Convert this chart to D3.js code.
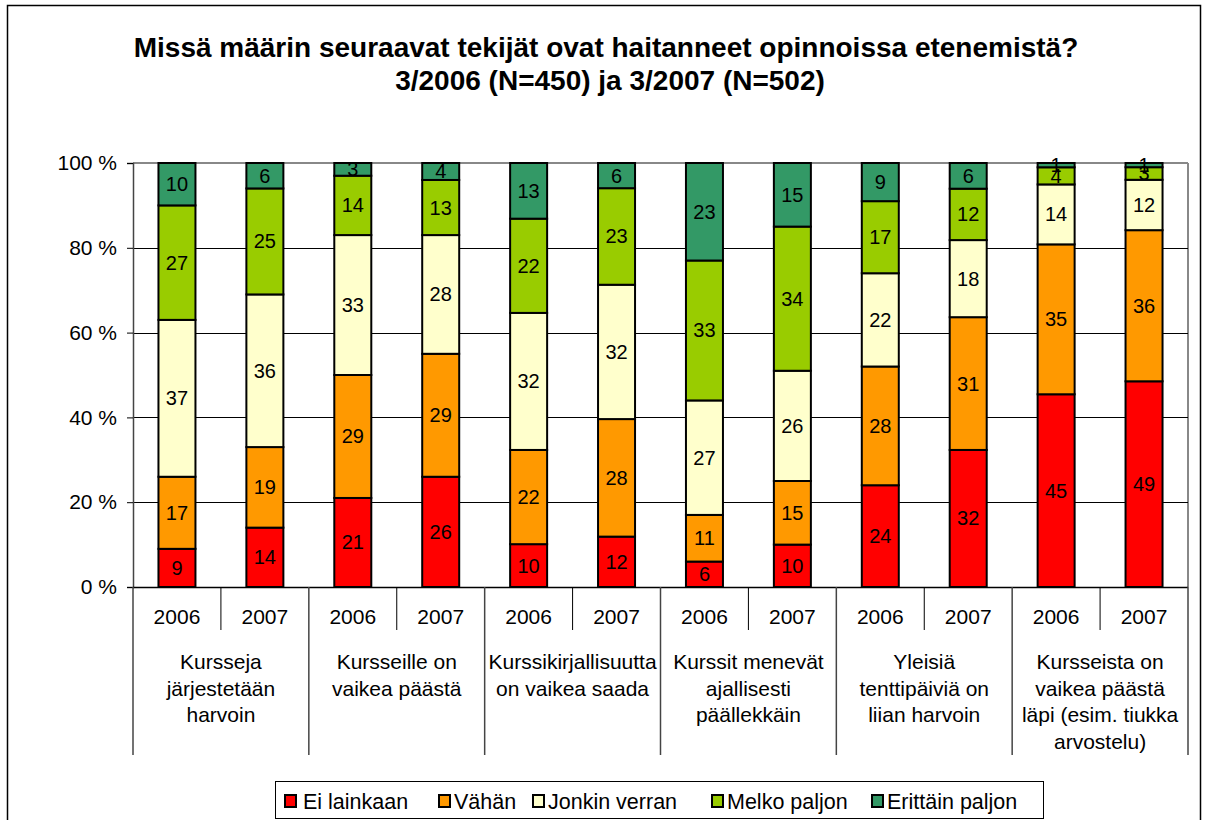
<!DOCTYPE html>
<html><head><meta charset="utf-8">
<script src="https://cdn.jsdelivr.net/npm/d3@7/dist/d3.min.js"></script>
<style>body{margin:0;background:#fff}svg{display:block;font-family:"Liberation Sans",Arial,sans-serif}</style>
</head><body>
<script>
const categories = [
  ["Kursseja", "järjestetään", "harvoin"],
  ["Kursseille on", "vaikea päästä"],
  ["Kurssikirjallisuutta", "on vaikea saada"],
  ["Kurssit menevät", "ajallisesti", "päällekkäin"],
  ["Yleisiä", "tenttipäiviä on", "liian harvoin"],
  ["Kursseista on", "vaikea päästä", "läpi (esim. tiukka", "arvostelu)"]
];
const years = ["2006", "2007"];
const seriesNames = ["Ei lainkaan", "Vähän", "Jonkin verran", "Melko paljon", "Erittäin paljon"];
const seriesColors = ["#FF0000", "#FF9900", "#FFFFCC", "#99CC00", "#339966"];
// values per bar (category x year), in order of seriesNames
const eiLainkaan    = [9, 14, 21, 26, 10, 12, 6, 10, 24, 32, 45, 49];
const vahan         = [17, 19, 29, 29, 22, 28, 11, 15, 28, 31, 35, 36];
const jonkinVerran  = [37, 36, 33, 28, 32, 32, 27, 26, 22, 18, 14, 12];
const melkoPaljon   = [27, 25, 14, 13, 22, 23, 33, 34, 17, 12, 4, 3];
const erittainPaljon= [10, 6, 3, 4, 13, 6, 23, 15, 9, 6, 1, 1];
const yTicks = [0, 20, 40, 60, 80, 100];

const W = 1208, H = 820;
const svg = d3.select("body").append("svg").attr("width", W).attr("height", H);

// outer frame
svg.append("rect").attr("x", 7.5).attr("y", 5.5).attr("width", 1193).attr("height", 830)
  .attr("fill", "none").attr("stroke", "#000").attr("stroke-width", 1.5);

// title
svg.append("text").attr("x", 606).attr("y", 57).attr("text-anchor", "middle")
  .attr("font-size", 28).attr("font-weight", "bold").text("Missä määrin seuraavat tekijät ovat haitanneet opinnoissa etenemistä?");
svg.append("text").attr("x", 610).attr("y", 90).attr("text-anchor", "middle")
  .attr("font-size", 28).attr("font-weight", "bold").text("3/2006 (N=450) ja 3/2007 (N=502)");

const pLeft = 133, pRight = 1188, pTop = 163, pBottom = 587;
const y = d3.scaleLinear().domain([0, 100]).range([pBottom, pTop]);
const barKeys = d3.range(categories.length * years.length);
const x = d3.scaleBand().domain(barKeys).range([pLeft, pRight]).padding(0);
const xc = d3.scaleBand().domain(d3.range(categories.length)).range([pLeft, pRight]).padding(0);
const barW = 37;

// plot border (gray top and right)
svg.append("line").attr("x1", pLeft).attr("x2", pRight).attr("y1", pTop).attr("y2", pTop).attr("stroke", "#888").attr("stroke-width", 2);
svg.append("line").attr("x1", pRight).attr("x2", pRight).attr("y1", pTop).attr("y2", pBottom).attr("stroke", "#888").attr("stroke-width", 2);

// gridlines
svg.append("g").selectAll("line").data(yTicks.filter(t => t > 0 && t < 100)).join("line")
  .attr("x1", pLeft).attr("x2", pRight).attr("y1", d => Math.round(y(d)) + 0.5).attr("y2", d => Math.round(y(d)) + 0.5)
  .attr("stroke", "#000").attr("stroke-width", 1);

// y axis
const yAxis = d3.axisLeft(y).tickValues(yTicks).tickSize(6).tickFormat(d => d + " %");
const gy = svg.append("g").attr("transform", `translate(${pLeft},0)`).call(yAxis);
gy.select(".domain").attr("stroke", "#444").attr("stroke-width", 1.5);
gy.selectAll(".tick line").attr("stroke", "#000");
gy.selectAll(".tick text").attr("font-size", 21).attr("fill", "#000").attr("x", -16)
  .attr("font-family", "Liberation Sans, Arial, sans-serif");

// stack data
const seriesArrays = [eiLainkaan, vahan, jonkinVerran, melkoPaljon, erittainPaljon];
const rows = barKeys.map(i => {
  const vals = seriesArrays.map(a => a[i]);
  const sum = d3.sum(vals);
  const o = { key: i };
  seriesNames.forEach((n, j) => { o[n] = vals[j] * 100 / sum; o["raw_" + n] = vals[j]; });
  return o;
});
const stacked = d3.stack().keys(seriesNames)(rows);

const gBars = svg.append("g");
stacked.forEach((layer, si) => {
  const g = gBars.append("g");
  g.selectAll("rect").data(layer).join("rect")
    .attr("x", d => x(d.data.key) + x.bandwidth() / 2 - barW / 2)
    .attr("width", barW)
    .attr("y", d => y(d[1]))
    .attr("height", d => y(d[0]) - y(d[1]))
    .attr("fill", seriesColors[si])
    .attr("stroke", "#000").attr("stroke-width", 2);
});
stacked.forEach((layer, si) => {
  gBars.append("g").selectAll("text").data(layer).join("text")
    .attr("x", d => x(d.data.key) + x.bandwidth() / 2)
    .attr("y", d => (y(d[0]) + y(d[1])) / 2 + 7)
    .attr("text-anchor", "middle").attr("font-size", 20).attr("fill", "#000")
    .text(d => d.data["raw_" + layer.key]);
});

// x axis: year labels & separators
const gx = svg.append("g");
gx.append("line").attr("x1", pLeft).attr("x2", pRight).attr("y1", pBottom + 0.5).attr("y2", pBottom + 0.5).attr("stroke", "#000").attr("stroke-width", 1.5);
gx.selectAll("text.year").data(barKeys).join("text").attr("class", "year")
  .attr("x", d => x(d) + x.bandwidth() / 2).attr("y", 624)
  .attr("text-anchor", "middle").attr("font-size", 21).text(d => years[d % 2]);
// inner separators between years
gx.selectAll("line.inner").data(d3.range(categories.length)).join("line").attr("class", "inner")
  .attr("x1", d => x(d * 2 + 1)).attr("x2", d => x(d * 2 + 1))
  .attr("y1", pBottom).attr("y2", 630).attr("stroke", "#000").attr("stroke-width", 1);
// category separators
gx.selectAll("line.cat").data(d3.range(categories.length + 1)).join("line").attr("class", "cat")
  .attr("x1", d => d < categories.length ? xc(d) : pRight).attr("x2", d => d < categories.length ? xc(d) : pRight)
  .attr("y1", pBottom).attr("y2", 755).attr("stroke", "#444").attr("stroke-width", 1.5);
// category labels
categories.forEach((lines, ci) => {
  const t = gx.append("text").attr("text-anchor", "middle").attr("font-size", 21);
  lines.forEach((ln, li) => {
    t.append("tspan").attr("x", xc(ci) + xc.bandwidth() / 2).attr("y", 669 + li * 26.5).text(ln);
  });
});

// legend
const lg = svg.append("g");
lg.append("rect").attr("x", 275.5).attr("y", 781.5).attr("width", 768).attr("height", 37)
  .attr("fill", "#fff").attr("stroke", "#000").attr("stroke-width", 1);
const legX = [285, 439, 533, 712, 872];
seriesNames.forEach((n, i) => {
  lg.append("rect").attr("x", legX[i]).attr("y", 795).attr("width", 11).attr("height", 12)
    .attr("fill", seriesColors[i]).attr("stroke", "#000").attr("stroke-width", 2);
  lg.append("text").attr("x", legX[i] + (i === 0 ? 18 : 15)).attr("y", 809).attr("font-size", 21.5).text(n);
});
</script>
</body></html>
